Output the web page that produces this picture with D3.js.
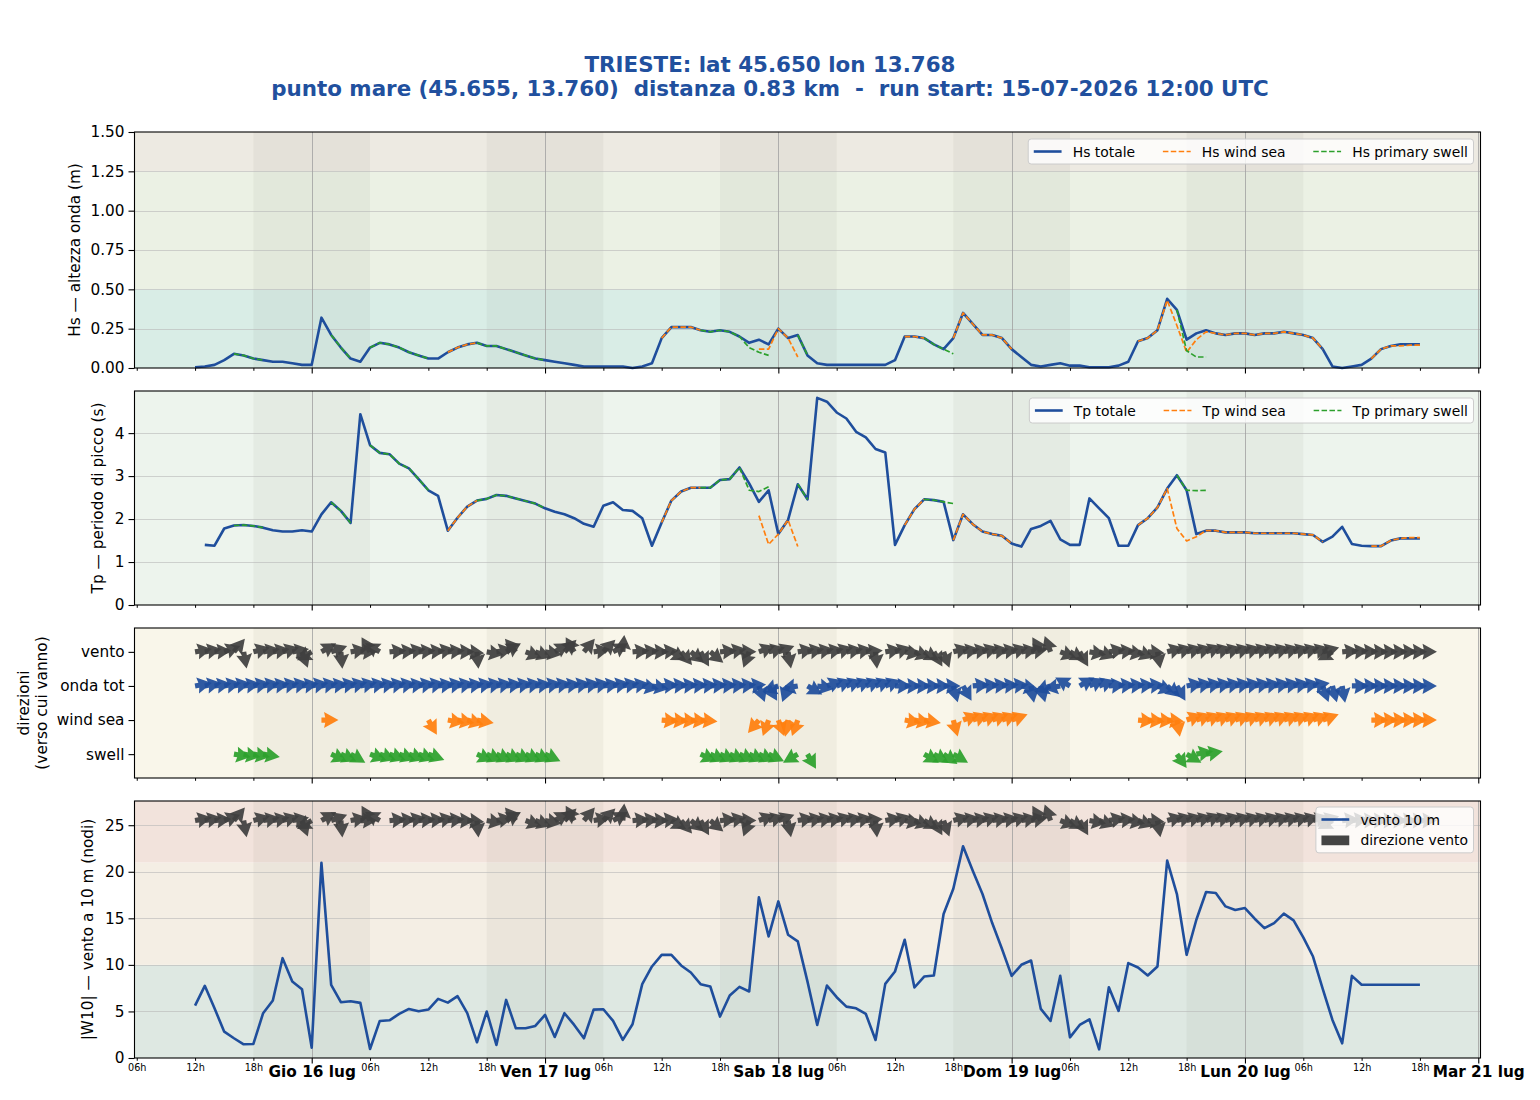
<!DOCTYPE html>
<html><head><meta charset="utf-8">
<script src="https://cdn.jsdelivr.net/npm/d3@7"></script>
<style>
body{margin:0;background:#fff}
svg{display:block}
text{font-family:"DejaVu Sans",sans-serif}
</style>
</head><body>
<svg id="c" width="1540" height="1100"></svg>
<script>
const _ = null;
const RUN_START = "2026-07-15T12:00:00Z";
const TITLE_1 = "TRIESTE: lat 45.650 lon 13.768";
const TITLE_2 = "punto mare (45.655, 13.760)  distanza 0.83 km  -  run start: 15-07-2026 12:00 UTC";
const HOUR_LABELS = {6:"06h", 12:"12h", 18:"18h"};
const DAY_LABELS = ["Gio 16 lug","Ven 17 lug","Sab 18 lug","Dom 19 lug","Lun 20 lug","Mar 21 lug"];
const DIR_ROWS = ["swell","wind sea","onda tot","vento"];
const HS_TICKS = [0,0.25,0.5,0.75,1.0,1.25,1.5];
const TP_TICKS = [0,1,2,3,4];
const W_TICKS = [0,5,10,15,20,25];

// Hs (m), hourly from run start
const HS_TOT = [
0.005,0.01,0.02,0.05,0.09,0.08,0.06,0.05,0.04,0.04,
0.03,0.02,0.02,0.32,0.21,0.13,0.06,0.04,0.13,0.16,
0.15,0.13,0.10,0.08,0.06,0.06,0.10,0.13,0.15,0.16,
0.14,0.14,0.12,0.10,0.08,0.06,0.05,0.04,0.03,0.02,
0.01,0.01,0.01,0.01,0.01,0.00,0.01,0.03,0.19,0.26,
0.26,0.26,0.24,0.23,0.24,0.23,0.20,0.16,0.18,0.15,
0.25,0.19,0.21,0.08,0.03,0.02,0.02,0.02,0.02,0.02,
0.02,0.02,0.05,0.20,0.20,0.19,0.15,0.12,0.19,0.35,
0.28,0.21,0.21,0.19,0.12,0.07,0.02,0.01,0.02,0.03,
0.015,0.015,0.005,0.005,0.005,0.015,0.04,0.17,0.19,0.24,
0.44,0.37,0.18,0.22,0.24,0.22,0.21,0.22,0.22,0.21,
0.22,0.22,0.23,0.22,0.21,0.19,0.12,0.01,0.00,0.01,
0.02,0.06,0.12,0.14,0.15,0.15,0.15];
const HS_WS = [
_,_,_,_,_,_,_,_,_,_,
_,_,_,0.32,_,_,_,_,_,_,
_,_,_,_,0.06,_,0.10,0.13,0.15,0.16,
_,_,_,_,_,_,_,_,_,_,
_,_,_,_,_,_,_,_,0.19,0.26,
0.26,0.26,0.24,_,_,_,_,_,0.12,0.12,
0.25,0.19,0.07,_,_,_,_,_,_,_,
_,_,_,0.20,0.20,0.19,_,_,0.19,0.35,
0.28,0.21,0.21,0.19,0.12,_,_,_,_,_,
_,_,_,_,_,_,_,0.17,0.19,0.24,
0.43,0.27,0.10,0.18,0.23,0.22,0.21,0.22,0.22,0.21,
0.22,0.22,0.23,0.22,0.21,0.19,0.12,_,_,_,
_,0.06,0.12,0.14,0.14,0.145,0.145];
const HS_SW = [
_,_,_,_,0.09,0.08,0.06,0.05,_,_,
_,_,_,_,0.21,0.13,0.06,_,0.13,0.16,
0.15,0.13,0.10,0.08,0.06,_,_,_,_,0.16,
0.14,0.14,0.12,0.10,0.08,0.06,0.05,_,_,_,
_,_,_,_,_,_,_,_,_,_,
_,_,0.24,0.23,0.24,0.23,0.20,0.13,0.10,0.08,
_,_,0.21,0.08,_,_,_,_,_,_,
_,_,_,_,_,0.19,0.15,0.12,0.09,_,
_,_,_,_,_,_,_,_,_,_,
_,_,_,_,_,_,_,_,_,_,
_,0.37,0.11,0.07,0.07,_,_,_,_,_,
_,_,_,_,_,_,_,_,_,_,
_,_,_,_,_,_,_];

// Tp (s)
const TP_TOT = [
_,1.40,1.38,1.78,1.85,1.86,1.84,1.80,1.74,1.71,
1.71,1.74,1.71,2.11,2.39,2.19,1.91,4.44,3.72,3.54,
3.51,3.29,3.18,2.93,2.67,2.54,1.73,2.03,2.29,2.43,
2.47,2.56,2.54,2.48,2.42,2.36,2.25,2.17,2.11,2.02,
1.89,1.82,2.31,2.39,2.21,2.19,2.02,1.38,1.92,2.43,
2.64,2.73,2.73,2.73,2.91,2.93,3.20,2.83,2.40,2.67,
1.65,1.98,2.81,2.46,4.82,4.73,4.48,4.34,4.03,3.90,
3.63,3.55,1.40,1.86,2.23,2.46,2.44,2.40,1.51,2.11,
1.88,1.71,1.65,1.61,1.43,1.36,1.77,1.84,1.96,1.53,
1.40,1.40,2.48,2.25,2.02,1.38,1.38,1.86,2.02,2.27,
2.71,3.02,2.67,1.65,1.73,1.73,1.69,1.69,1.69,1.67,
1.67,1.67,1.67,1.67,1.65,1.63,1.47,1.59,1.82,1.42,
1.38,1.37,1.37,1.50,1.55,1.55,1.55];
const TP_WS = [
_,_,_,_,_,_,_,_,_,_,
_,_,_,2.11,_,_,_,_,_,_,
_,_,_,_,2.67,_,1.73,2.03,2.29,2.43,
_,_,_,_,_,_,_,_,_,_,
_,_,_,_,_,_,_,_,1.92,2.43,
2.64,2.73,2.73,_,_,_,_,_,2.08,1.41,
1.65,1.98,1.36,_,_,_,_,_,_,_,
_,_,_,1.86,2.23,2.46,_,_,1.51,2.11,
1.88,1.71,1.65,1.61,1.43,_,_,_,_,_,
_,_,_,_,_,_,_,1.86,2.02,2.27,
2.71,1.78,1.49,1.59,1.73,1.73,1.69,1.69,1.69,1.67,
1.67,1.67,1.67,1.67,1.65,1.63,1.47,_,_,_,
_,1.37,1.37,1.50,1.55,1.57,1.57];
const TP_SW = [
_,_,_,_,1.85,1.86,1.84,1.80,_,_,
_,_,_,_,2.39,2.19,1.91,_,3.72,3.54,
3.51,3.29,3.18,2.93,2.67,_,_,_,_,2.43,
2.47,2.56,2.54,2.48,2.42,2.36,2.25,_,_,_,
_,_,_,_,_,_,_,_,_,_,
_,_,2.73,2.73,2.91,2.93,3.20,2.67,2.64,2.75,
_,_,2.81,2.46,_,_,_,_,_,_,
_,_,_,_,_,2.46,2.44,2.40,2.36,_,
_,_,_,_,_,_,_,_,_,_,
_,_,_,_,_,_,_,_,_,_,
_,3.02,2.67,2.66,2.67,_,_,_,_,_,
_,_,_,_,_,_,_,_,_,_,
_,_,_,_,_,_,_];

// wind speed 10 m (knots)
const WIND = [
5.63,7.75,5.34,2.83,2.12,1.47,1.51,4.81,6.17,10.72,
8.21,7.39,1.11,20.95,7.86,5.99,6.10,5.92,0.97,3.98,
4.05,4.73,5.27,5.02,5.20,6.35,5.95,6.64,4.81,1.69,
4.99,1.40,6.24,3.19,3.19,3.44,4.63,2.26,4.81,3.55,
2.12,5.20,5.24,3.98,1.94,3.62,7.93,9.83,11.08,11.08,
9.94,9.18,7.93,7.68,4.45,6.71,7.64,7.14,17.25,13.06,
16.82,13.24,12.52,8.2,3.55,7.78,6.53,5.52,5.34,4.73,
1.94,7.96,9.29,12.70,7.57,8.75,8.86,15.46,18.18,22.74,
20.12,17.61,14.49,11.73,8.82,10.01,10.47,5.27,3.98,8.82,
2.22,3.55,4.16,0.93,7.60,5.06,10.19,9.72,8.86,9.83,
21.20,17.61,11.08,14.85,17.83,17.72,16.28,15.89,16.10,14.96,
13.95,14.49,15.50,14.78,12.95,10.90,7.42,4.09,1.58,8.82,
7.86,7.86,7.86,7.86,7.86,7.86,7.86];

// directions (degrees, direction the flow goes towards, 0 = N, 90 = E)
const DIR_WIND = [
80,80,85,70,40,170,75,80,80,75,
80,160,240,60,70,175,80,90,330,300,
85,85,80,85,85,80,85,90,95,175,
100,80,60,320,110,110,100,60,45,330,
40,80,45,60,5,85,85,90,85,120,
140,130,150,130,85,80,90,200,70,75,
70,170,80,80,80,80,75,80,80,85,
175,80,75,100,110,120,150,160,75,80,
80,75,80,80,75,80,80,330,340,110,
120,150,100,110,80,85,100,110,95,170,
75,75,75,75,70,75,75,75,75,75,
75,75,75,75,75,75,75,240,85,85,
88,90,90,90,90,90,90];
const DIR_TOT = [
80,80,82,80,80,82,80,80,82,80,
80,82,80,80,82,80,78,78,80,80,
80,80,82,80,80,82,80,80,82,80,
80,80,82,80,80,82,80,80,82,80,
80,80,82,80,80,82,100,100,85,85,
85,85,85,85,85,85,85,85,160,150,
250,200,260,120,100,70,70,70,70,70,
70,70,90,90,90,90,90,90,165,150,
85,85,85,85,85,100,170,165,250,260,
300,60,65,70,85,85,85,85,85,110,
130,150,80,80,80,80,80,80,80,80,
80,80,80,80,80,80,160,165,170,90,
90,90,90,90,90,90,90];
const DIR_WS = [
_,_,_,_,_,_,_,_,_,_,
_,_,_,90,_,_,_,_,_,_,
_,_,_,_,150,_,100,100,105,100,
_,_,_,_,_,_,_,_,_,_,
_,_,_,_,_,_,_,_,95,95,
95,95,95,_,_,_,_,_,220,200,
160,190,200,_,_,_,_,_,_,_,
_,_,_,100,100,100,_,_,165,70,
70,70,70,70,70,_,_,_,_,_,
_,_,_,_,_,_,_,95,95,95,
95,170,70,70,70,70,70,70,70,70,
70,70,70,70,70,70,70,_,_,_,
_,90,90,90,90,90,90];
const DIR_SW = [
_,_,_,_,100,100,100,100,_,_,
_,_,_,_,115,115,120,_,110,110,
110,110,110,110,110,_,_,_,_,115,
115,115,115,115,115,115,115,_,_,_,
_,_,_,_,_,_,_,_,_,_,
_,_,115,115,115,115,115,115,115,115,
_,_,240,150,_,_,_,_,_,_,
_,_,_,_,_,120,120,125,120,_,
_,_,_,_,_,_,_,_,_,_,
_,_,_,_,_,_,_,_,_,_,
_,145,120,80,80,_,_,_,_,_,
_,_,_,_,_,_,_,_,_,_,
_,_,_,_,_,_,_];

// ---------- style / layout ----------
const C_BLUE = "#1f4e9c", C_ORANGE = "#ff7f0e", C_GREEN = "#2ca02c", C_DARK = "#404040";
const HS_BANDS = [{from:0,to:0.5,color:"#d9ede6"},{from:0.5,to:1.25,color:"#ebf1e4"},{from:1.25,to:1.5,color:"#edeae2"}];
const W_BANDS = [{from:0,to:10,color:"#dee8e2"},{from:10,to:21,color:"#f4eee4"},{from:21,to:27.6,color:"#f2e3dc"}];

const HOUR = 3600e3;
const T0 = Date.parse(RUN_START);
const times = HS_TOT.map((d,i) => new Date(T0 + i*HOUR));
const tFirst = times[0], tLast = times[times.length-1];

const X0 = 134.5, X1 = 1480.5;
const svg = d3.select("#c");
const xs = d3.scaleUtc()
  .domain([new Date(+tFirst - 6.23*HOUR), new Date(+tLast + 6.23*HOUR)])
  .range([X0, X1]);

const P = {
  hs:{top:132, bottom:368},
  tp:{top:391, bottom:605},
  dir:{top:628, bottom:778},
  wind:{top:801, bottom:1058}
};
const yHs = d3.scaleLinear().domain([0,1.5]).range([P.hs.bottom, P.hs.top]);
const yTp = d3.scaleLinear().domain([0,4.98]).range([P.tp.bottom, P.tp.top]);
const yDir = d3.scaleLinear().domain([-0.7,3.7]).range([P.dir.bottom, P.dir.top]);
const yW = d3.scaleLinear().domain([0,27.6]).range([P.wind.bottom, P.wind.top]);

const xTicks = d3.utcHour.every(6).range(new Date(Date.UTC(2026,6,15,6)), new Date(Date.UTC(2026,6,21,0,1)));
const majorTicks = xTicks.filter(t => t.getUTCHours() === 0);
const minorTicks = xTicks.filter(t => t.getUTCHours() !== 0);
const nights = times.filter((t,i) => t.getUTCHours() === 18 && i + 12 <= times.length - 1)
  .map(t => [t, new Date(+t + 12*HOUR)]);

function base(p, bands, bg, yScale, gridTicks) {
  const g = svg.append("g");
  if (bands) {
    bands.forEach(b => g.append("rect").attr("x", X0).attr("width", X1 - X0)
      .attr("y", yScale(b.to)).attr("height", yScale(b.from) - yScale(b.to)).attr("fill", b.color));
  } else {
    g.append("rect").attr("x", X0).attr("y", p.top).attr("width", X1 - X0).attr("height", p.bottom - p.top).attr("fill", bg);
  }
  nights.forEach(n => g.append("rect").attr("x", xs(n[0])).attr("width", xs(n[1]) - xs(n[0]))
    .attr("y", p.top).attr("height", p.bottom - p.top).attr("fill", "rgba(40,40,20,0.045)"));
  if (gridTicks) {
    gridTicks.forEach(v => {
      const yy = Math.round(yScale(v)) + 0.5;
      if (yy > p.top + 1 && yy < p.bottom - 1)
        g.append("line").attr("x1", X0).attr("x2", X1).attr("y1", yy).attr("y2", yy)
          .attr("stroke", "#b8b8b8").attr("stroke-opacity", 0.6).attr("stroke-width", 1);
    });
  }
  majorTicks.forEach(t => {
    const xx = Math.round(xs(t)) + 0.5;
    g.append("line").attr("x1", xx).attr("x2", xx).attr("y1", p.top).attr("y2", p.bottom)
      .attr("stroke", "#a0a0a0").attr("stroke-opacity", 0.8).attr("stroke-width", 1);
  });
  return g;
}

function frameAndAxes(p, yScale, yTickVals, yFmt, withLabels) {
  const g = svg.append("g");
  g.append("rect").attr("x", X0).attr("y", p.top).attr("width", X1 - X0).attr("height", p.bottom - p.top)
    .attr("fill", "none").attr("stroke", "#000").attr("stroke-width", 1.1);
  const ya = g.append("g").attr("transform", `translate(${X0},0)`)
    .call(d3.axisLeft(yScale).tickValues(yTickVals).tickFormat(yFmt).tickSize(6).tickPadding(4));
  ya.select(".domain").remove();
  ya.selectAll("line").attr("stroke", "#000").attr("stroke-width", 1.1);
  ya.selectAll("text").attr("font-size", "15.3px").attr("fill", "#000").attr("font-family", "DejaVu Sans");
  const xm = g.append("g").attr("transform", `translate(0,${p.bottom})`)
    .call(d3.axisBottom(xs).tickValues(minorTicks).tickSize(2.8).tickPadding(3.2)
      .tickFormat(t => withLabels ? HOUR_LABELS[t.getUTCHours()] : ""));
  xm.select(".domain").remove();
  xm.selectAll("line").attr("stroke", "#000").attr("stroke-width", 1);
  xm.selectAll("text").attr("font-size", "9.7px").attr("fill", "#000").attr("font-family", "DejaVu Sans");
  const xM = g.append("g").attr("transform", `translate(0,${p.bottom})`)
    .call(d3.axisBottom(xs).tickValues(majorTicks).tickSize(5.5).tickPadding(3)
      .tickFormat((t,i) => withLabels ? DAY_LABELS[i] : ""));
  xM.select(".domain").remove();
  xM.selectAll("line").attr("stroke", "#000").attr("stroke-width", 1.1);
  xM.selectAll("text").attr("font-size", "15.3px").attr("font-weight", "bold").attr("fill", "#000").attr("font-family", "DejaVu Sans");
  return g;
}

function drawLine(g, arr, yScale, color, width, dash) {
  const line = d3.line().defined(d => d.v != null).x(d => xs(d.t)).y(d => yScale(d.v));
  g.append("path").datum(arr.map((v,i) => ({t: times[i], v})))
    .attr("d", line).attr("fill", "none").attr("stroke", color).attr("stroke-width", width)
    .attr("stroke-linejoin", "round").attr("stroke-dasharray", dash || null);
}

const ARROW = "M0,-2.6 L3.8,-2.6 L2.6,-8 L17,0 L2.6,8 L3.8,2.6 L0,2.6 Z";
function drawArrows(g, dirs, yPix, color) {
  g.selectAll(null).data(dirs.map((d,i) => ({d, i})).filter(o => o.d != null)).join("path")
    .attr("d", ARROW)
    .attr("transform", o => `translate(${xs(times[o.i]).toFixed(2)},${yPix.toFixed(2)}) rotate(${o.d - 90})`)
    .attr("fill", color).attr("fill-opacity", 0.93);
}

function legend(entries, rightX, topY, vertical) {
  const fs = 13.9, pad = 0.4*fs, hl = 2*fs, htp = 0.8*fs, cs = 2*fs, rowH = fs, ls = 0.5*fs;
  const g = svg.append("g");
  const box = g.append("rect");
  const tmp = entries.map(e => {
    const t = g.append("text").attr("font-size", fs + "px").text(e.label);
    return {e, t, w: t.node().getComputedTextLength()};
  });
  let width, height;
  if (vertical) {
    width = 2*pad + hl + htp + d3.max(tmp, d => d.w);
    height = 2*pad + entries.length*rowH + (entries.length - 1)*ls;
  } else {
    width = 2*pad + d3.sum(tmp, d => hl + htp + d.w) + cs*(entries.length - 1);
    height = 2*pad + rowH;
  }
  const left = rightX - width;
  box.attr("x", left).attr("y", topY).attr("width", width).attr("height", height).attr("rx", 3)
    .attr("fill", "#fff").attr("fill-opacity", 0.8).attr("stroke", "#cccccc").attr("stroke-width", 1);
  let cx = left + pad;
  tmp.forEach((d, i) => {
    let hx, cy;
    if (vertical) { hx = left + pad; cy = topY + pad + i*(rowH + ls) + rowH/2; }
    else { hx = cx; cy = topY + pad + rowH/2; }
    if (d.e.type === "rect") {
      g.append("rect").attr("x", hx).attr("y", cy - 0.35*fs).attr("width", hl).attr("height", 0.7*fs).attr("fill", d.e.color);
    } else {
      g.append("line").attr("x1", hx).attr("x2", hx + hl).attr("y1", cy).attr("y2", cy)
        .attr("stroke", d.e.color).attr("stroke-width", d.e.width).attr("stroke-dasharray", d.e.dash || null);
    }
    d.t.attr("x", hx + hl + htp).attr("y", cy).attr("dominant-baseline", "central").attr("fill", "#000");
    if (!vertical) cx = hx + hl + htp + d.w + cs;
  });
}

const DASH = "5.5,2.4";
const DW = 1.7;

// ---- Titles ----
svg.append("text").attr("x", 770).attr("y", 71.5).attr("text-anchor", "middle")
  .attr("font-size", "21.4px").attr("font-weight", "bold").attr("fill", "#21509e").text(TITLE_1);
svg.append("text").attr("x", 770).attr("y", 95.5).attr("text-anchor", "middle")
  .attr("font-size", "21.4px").attr("font-weight", "bold").attr("fill", "#21509e")
  .style("white-space", "pre").text(TITLE_2);

// ---- Panel 1: Hs ----
const g1 = base(P.hs, HS_BANDS, null, yHs, HS_TICKS);
drawLine(g1, HS_TOT, yHs, C_BLUE, 2.6);
drawLine(g1, HS_WS, yHs, C_ORANGE, DW, DASH);
drawLine(g1, HS_SW, yHs, C_GREEN, DW, DASH);
frameAndAxes(P.hs, yHs, HS_TICKS, d3.format(".2f"), false);
legend([{label:"Hs totale", color:C_BLUE, width:2.6},
        {label:"Hs wind sea", color:C_ORANGE, width:DW, dash:DASH},
        {label:"Hs primary swell", color:C_GREEN, width:DW, dash:DASH}], X1 - 7, P.hs.top + 7, false);

// ---- Panel 2: Tp ----
const g2 = base(P.tp, null, "#edf4ed", yTp, TP_TICKS);
drawLine(g2, TP_TOT, yTp, C_BLUE, 2.6);
drawLine(g2, TP_WS, yTp, C_ORANGE, DW, DASH);
drawLine(g2, TP_SW, yTp, C_GREEN, DW, DASH);
frameAndAxes(P.tp, yTp, TP_TICKS, d3.format("d"), false);
legend([{label:"Tp totale", color:C_BLUE, width:2.6},
        {label:"Tp wind sea", color:C_ORANGE, width:DW, dash:DASH},
        {label:"Tp primary swell", color:C_GREEN, width:DW, dash:DASH}], X1 - 7, P.tp.top + 7, false);

// ---- Panel 3: directions ----
const g3 = base(P.dir, null, "#f9f6ea", yDir, null);
drawArrows(g3, DIR_WIND, yDir(3), C_DARK);
drawArrows(g3, DIR_TOT, yDir(2), C_BLUE);
drawArrows(g3, DIR_WS, yDir(1), C_ORANGE);
drawArrows(g3, DIR_SW, yDir(0), C_GREEN);
frameAndAxes(P.dir, yDir, [0,1,2,3], i => DIR_ROWS[i], false);

// ---- Panel 4: wind ----
const g4 = base(P.wind, W_BANDS, null, yW, W_TICKS);
drawArrows(g4, DIR_WIND, yW(25.5), C_DARK);
drawLine(g4, WIND, yW, C_BLUE, 2.6);
frameAndAxes(P.wind, yW, W_TICKS, d3.format("d"), true);
legend([{label:"vento 10 m", color:C_BLUE, width:2.6},
        {label:"direzione vento", color:"#444444", type:"rect"}], X1 - 7, P.wind.top + 6, true);

// ---- Y labels ----
function ylab(x, y, txt) {
  svg.append("text").attr("transform", `translate(${x},${y}) rotate(-90)`).attr("text-anchor", "middle")
    .attr("dominant-baseline", "central").attr("font-size", "15.3px").attr("fill", "#000").text(txt);
}
ylab(75, (P.hs.top + P.hs.bottom)/2, "Hs — altezza onda (m)");
ylab(98, (P.tp.top + P.tp.bottom)/2, "Tp — periodo di picco (s)");
ylab(24, (P.dir.top + P.dir.bottom)/2, "direzioni");
ylab(42, (P.dir.top + P.dir.bottom)/2, "(verso cui vanno)");
ylab(88, (P.wind.top + P.wind.bottom)/2, "|W10| — vento a 10 m (nodi)");
</script>
</body></html>
